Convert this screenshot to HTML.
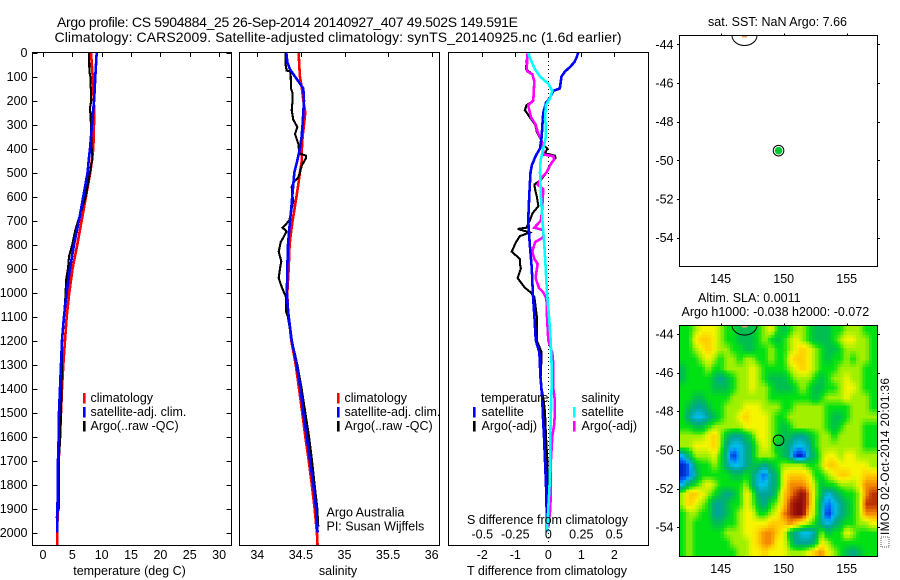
<!DOCTYPE html>
<html>
<head>
<meta charset="utf-8">
<title>Argo profile</title>
<style>
html,body{margin:0;padding:0;background:#fff;}
svg{display:block;}
text{font-family:"Liberation Sans",sans-serif;font-size:12.5px;fill:#000;}
.t{font-size:14px;}
.small{font-size:11.8px;}
.ln{fill:none;stroke-width:2.6;shape-rendering:crispEdges;stroke-linejoin:miter;}
.ln.thin{stroke-width:2.1;}
.ax{fill:none;stroke:#000;stroke-width:1;shape-rendering:crispEdges;}
</style>
</head>
<body>
<svg id="fig" xmlns="http://www.w3.org/2000/svg" width="900" height="580" viewBox="0 0 900 580">
<rect width="900" height="580" fill="#fff"/>
<defs>
<clipPath id="clipP1"><rect x="33" y="53" width="198" height="492"/></clipPath>
<clipPath id="clipP2"><rect x="240" y="53" width="199" height="492"/></clipPath>
<clipPath id="clipP3"><rect x="449" y="53" width="199" height="492"/></clipPath>
<clipPath id="clipM1"><rect x="679.5" y="35.5" width="198" height="231"/></clipPath>
<clipPath id="clipM2"><rect x="679.5" y="325.5" width="198" height="231"/></clipPath>
</defs>
<text class="t" x="57" y="27" textLength="461" lengthAdjust="spacing">Argo profile: CS 5904884_25 26-Sep-2014 20140927_407 49.502S 149.591E</text>
<text class="t" x="54.5" y="42" textLength="567" lengthAdjust="spacing">Climatology: CARS2009. Satellite-adjusted climatology: synTS_20140925.nc (1.6d earlier)</text>
<g id="panelT"></g>
<g id="panelS"></g>
<g id="panelD"></g>
<g id="mapSST"></g>
<g id="mapSLA"></g>
<text class="small" x="0" y="0" transform="translate(889,535) rotate(-90)" textLength="157" lengthAdjust="spacing">IMOS 02-Oct-2014 20:01:36</text>
<rect x="881" y="537" width="8" height="10" fill="none" stroke="#555" stroke-width="1" stroke-dasharray="1 1"/>
</svg>
<script>
/* ---------- axis ticks ---------- */
const depthTicks = [0,100,200,300,400,500,600,700,800,900,1000,1100,1200,1300,1400,1500,1600,1700,1800,1900,2000];
const tempTicks = [0,5,10,15,20,25,30];
const salTicks = [34,34.5,35,35.5,36];
const salTickLabels = ['34','34.5','35','35.5','36'];
const tdiffTicks = [-2,-1,0,1,2];
const sdiffTicks = [-0.5,-0.25,0,0.25,0.5];
const sdiffTickLabels = ['-0.5','-0.25','0','0.25','0.5'];
const lonTicks = [145,150,155];
const latTicks = [-44,-46,-48,-50,-52,-54];

/* ---------- temperature panel ---------- */
const tempClimDepths = [0,100,250,400,500,600,700,800,900,1000,1100,1200,1300,1400,1500,1600,1700,1800,2000,2055];
const tempClimValues = [8.18,8.46,8.74,8.57,8.06,7.33,6.59,5.85,5.05,4.48,4.03,3.75,3.46,3.24,3.07,2.9,2.67,2.56,2.44,2.44];
const tempSatDepths = [0,50,100,200,300,400,450,500,600,700,800,900,1000,1100,1200,1300,1400,1500,1600,1700,1800,2000];
const tempSatValues = [9.14,9.03,8.91,8.7,8.35,8.0,7.78,7.6,6.87,6.13,5.28,4.6,4.03,3.58,3.24,3.07,2.9,2.73,2.67,2.56,2.5,2.44];
const tempArgoDepths = [0,80,100,200,230,300,400,440,470,500,600,700,740,800,850,900,950,1000,1100,1200,1300,1500,1600,1700,1900,1940];
const tempArgoValues = [7.84,7.9,8.06,8.23,8.0,8.18,8.3,8.46,8.2,8.0,7.27,6.0,5.5,5.0,4.43,4.26,3.92,3.87,3.58,3.24,3.24,3.07,2.95,2.67,2.7,2.3];

/* ---------- salinity panel ---------- */
const salClimDepths = [0,100,150,200,250,300,350,400,450,500,550,600,650,700,750,800,900,1000,1050,1100,1200,1300,1400,1500,1600,1700,1800,1900,2000,2055];
const salClimValues = [34.474,34.489,34.512,34.528,34.55,34.535,34.52,34.512,34.512,34.489,34.47,34.45,34.428,34.405,34.386,34.37,34.36,34.344,34.348,34.36,34.39,34.44,34.478,34.515,34.55,34.59,34.625,34.657,34.684,34.692];
const salSatDepths = [0,40,70,100,130,150,200,300,350,400,450,500,550,600,650,700,750,800,900,1000,1050,1100,1200,1300,1400,1500,1600,1700,1800,1900,2000];
const salSatValues = [34.333,34.344,34.375,34.432,34.49,34.528,34.535,34.52,34.508,34.489,34.459,34.424,34.413,34.4,34.39,34.375,34.363,34.352,34.344,34.34,34.348,34.36,34.394,34.451,34.495,34.528,34.566,34.604,34.642,34.673,34.692];
const salArgoDepths = [0,50,75,80,150,170,200,240,280,310,340,380,420,430,440,470,500,520,540,560,600,620,650,700,715,730,745,770,790,830,870,900,940,980,1000,1020,1080,1100,1200,1300,1400,1500,1600,1700,1800,1900,1975];
const salArgoValues = [34.325,34.325,34.336,34.382,34.386,34.405,34.405,34.394,34.413,34.459,34.432,34.47,34.482,34.558,34.558,34.512,34.489,34.47,34.42,34.394,34.405,34.413,34.394,34.367,34.329,34.29,34.336,34.3,34.268,34.245,34.275,34.26,34.245,34.283,34.306,34.33,34.33,34.35,34.396,34.459,34.508,34.55,34.593,34.627,34.657,34.688,34.7];

/* ---------- difference panel ---------- */
const dTempSatDepths = [0,20,40,60,80,100,120,150,160,190,210,250,300,350,400,430,470,500,600,700,800,900,1000,1100,1150,1200,1250,1350,1450,1500,1600,1700,1800,1900,2000];
const dTempSatValues = [0.91,0.86,0.79,0.66,0.5,0.4,0.38,0.35,0.15,0.05,-0.07,-0.15,-0.18,-0.2,-0.25,-0.38,-0.5,-0.54,-0.58,-0.61,-0.56,-0.5,-0.47,-0.42,-0.4,-0.38,-0.27,-0.24,-0.18,-0.17,-0.13,-0.1,-0.07,-0.05,-0.04];
const dTempArgoDepths = [0,70,90,120,200,220,240,270,300,330,370,390,400,420,430,440,470,500,530,550,570,600,640,670,700,730,735,750,765,790,830,860,880,900,940,980,1000,1020,1100,1200,1250,1350,1400,1450,1500,1600,1700,1800,1900,1950];
const dTempArgoValues = [-0.63,-0.68,-0.48,-0.42,-0.45,-0.66,-0.71,-0.56,-0.4,-0.35,-0.2,-0.12,-0.03,-0.1,0.2,0.22,0.05,-0.05,-0.22,-0.42,-0.4,-0.35,-0.3,-0.48,-0.56,-0.66,-0.93,-0.56,-0.86,-0.98,-1.11,-0.86,-0.86,-0.83,-0.93,-0.71,-0.53,-0.42,-0.35,-0.35,-0.2,-0.23,-0.2,-0.14,-0.1,-0.07,-0.03,-0.02,-0.03,-0.04];
const dSalSatDepths = [0,30,70,100,130,160,190,220,280,300,350,400,450,500,600,700,800,900,1000,1100,1200,1300,1400,1500,1600,1700,1800,1900,2000];
const dSalSatValues = [-0.152,-0.134,-0.1,-0.063,0,0.03,0.013,-0.018,-0.025,-0.018,-0.018,-0.038,-0.058,-0.063,-0.056,-0.045,-0.03,-0.02,-0.01,0.005,0.018,0.025,0.025,0.02,0.015,0.015,0.01,0,-0.01];
const dSalArgoDepths = [0,70,80,90,120,200,220,270,300,330,370,400,425,432,445,470,500,520,550,570,620,670,700,730,740,770,790,830,860,880,940,980,1000,1020,1050,1100,1200,1250,1300,1400,1450,1500,1550,1600,1700,1800,1900,1980];
const dSalArgoValues = [-0.157,-0.164,-0.157,-0.121,-0.106,-0.114,-0.152,-0.131,-0.096,-0.081,-0.05,-0.038,-0.038,0.038,0.045,0.013,-0.013,-0.05,-0.081,-0.038,-0.043,-0.05,-0.056,-0.106,-0.038,-0.038,-0.1,-0.121,-0.106,-0.081,-0.096,-0.071,-0.038,-0.018,-0.01,-0.01,0,0.03,0.038,0.038,0.05,0.05,0.045,0.03,0.02,0.02,0.015,0];

/* ---------- maps ---------- */
const argoLon = 149.591;
const argoLat = -49.502;
const heatLon0 = 142;
const heatLat0 = -43.8;
const heatStep = 0.5;
const heatRow00 = [0,0,1,2,2,2,1,0,0,-1,-1,-1,0,1,2,0,-1,0,1,1,0,-1,-1,-1,0,0,1,1,1,0,0];
const heatRow01 = [0,0,2,3,3,2,1,0,0,-1,-1,-1,0,1,0,-1,0,1,2,1,0,-1,-1,-1,0,1,2,2,1,1,0];
const heatRow02 = [0,0,1,2,3,2,1,1,0,0,-1,-1,0,0,1,0,0,1,2,3,2,1,0,-1,-1,0,1,1,1,1,0];
const heatRow03 = [0,0,0,1,2,1,0,1,1,0,1,1,0,0,1,0,0,2,3,3,2,1,0,-1,0,0,1,0,1,1,0];
const heatRow04 = [-1,0,0,0,1,0,0,1,1,1,1,2,1,0,0,0,0,1,2,3,2,1,0,0,0,1,1,1,1,0,0];
const heatRow05 = [-1,0,0,0,0,-1,-2,-1,0,1,1,2,1,0,-1,-1,-1,0,1,1,1,0,-1,0,1,1,2,1,1,0,0];
const heatRow06 = [0,0,0,0,0,-1,-1,-1,0,1,1,2,1,1,0,-1,-1,-1,0,1,0,-1,-1,0,0,1,2,2,1,0,0];
const heatRow07 = [0,0,-1,-1,0,0,0,0,1,1,1,1,1,1,0,0,0,0,0,0,0,-1,0,1,1,1,2,1,1,1,0];
const heatRow08 = [0,-1,-2,-2,-1,0,0,1,1,1,2,2,2,1,1,1,0,0,1,1,1,1,1,0,0,0,0,1,1,1,0];
const heatRow09 = [0,-2,-3,-3,-2,-1,0,1,1,2,3,2,2,2,1,0,0,1,1,1,1,1,1,0,-1,-1,0,1,1,1,1];
const heatRow10 = [0,0,-1,-1,0,1,1,1,1,1,2,2,2,2,1,0,-1,0,1,1,1,1,1,0,-1,0,1,1,1,0,0];
const heatRow11 = [1,1,1,1,2,3,1,-1,-2,-2,-1,0,2,2,1,0,-1,-1,-2,-2,-1,0,1,1,0,1,1,1,1,0,0];
const heatRow12 = [1,1,2,2,2,3,1,-2,-3,-3,-2,-1,1,2,1,-1,-1,-2,-3,-3,-2,0,1,1,1,1,1,1,1,0,0];
const heatRow13 = [-3,-1,1,1,1,2,0,-2,-5,-3,-2,-1,1,1,1,0,-1,-2,-5,-5,-2,-1,1,2,2,1,2,2,1,1,1];
const heatRow14 = [-5,-4,-1,0,0,1,0,-2,-3,-3,-2,-1,-1,-2,-1,0,1,1,1,1,0,0,1,3,3,2,2,2,2,2,1];
const heatRow15 = [-5,-4,-2,0,0,0,0,0,-1,-1,0,-1,-3,-4,-2,-1,2,3,3,3,2,0,0,1,2,3,3,2,2,3,3];
const heatRow16 = [-3,-1,0,1,2,1,0,0,0,0,1,-1,-3,-3,-2,-1,2,4,4,4,3,1,-1,0,0,1,1,1,2,4,4];
const heatRow17 = [1,3,3,2,1,0,-1,-2,-1,0,2,1,-2,-2,-2,0,3,4,5,6,4,1,-1,-3,-2,-1,0,0,1,4,5];
const heatRow18 = [1,3,2,1,0,-2,-2,-1,0,0,2,1,-1,-2,0,1,3,5,6,6,4,1,-2,-4,-3,-2,-1,0,1,5,5];
const heatRow19 = [0,1,1,0,0,-2,-2,-1,0,1,2,2,0,0,1,2,4,5,6,6,3,1,-2,-5,-3,-2,-1,0,1,4,4];
const heatRow20 = [0,1,0,0,0,-1,-1,0,0,1,2,2,2,2,3,3,3,4,3,2,1,0,-2,-3,-2,-1,0,0,1,1,2];
const heatRow21 = [0,1,0,0,0,0,0,1,1,1,2,2,3,4,4,3,2,-1,-2,-3,-3,-2,1,-1,0,0,2,1,0,0,0];
const heatRow22 = [0,1,0,0,0,0,0,0,1,1,1,2,3,4,4,2,2,0,-2,-2,-2,-1,2,1,0,0,0,0,0,0,0];
const heatRow23 = [0,1,0,0,0,0,0,0,0,1,1,2,2,3,2,2,2,1,1,1,2,3,4,2,1,0,-1,-2,-1,0,0];
const heatRows = [heatRow00,heatRow01,heatRow02,heatRow03,heatRow04,heatRow05,heatRow06,heatRow07,heatRow08,heatRow09,heatRow10,heatRow11,heatRow12,heatRow13,heatRow14,heatRow15,heatRow16,heatRow17,heatRow18,heatRow19,heatRow20,heatRow21,heatRow22,heatRow23];
const heatLevels = [-5,-4,-3,-2,-1,0,1,2,3,4,5,6];
const heatColors = [[0,40,200],[0,100,250],[0,190,235],[0,165,150],[0,190,80],[0,225,20],[160,240,0],[245,245,0],[255,205,0],[245,140,0],[190,50,0],[140,10,10]];

/* ---------- axis functions ---------- */
const NS = 'http://www.w3.org/2000/svg';
const depthY = d => 52.5 + d * 0.24;
const tempX = v => 43 + v * 5.87;
const salX = v => 257.3 + (v - 34) * 87.2;
const tdiffX = v => 548.3 + v * 33;
const sdiffX = v => 548.3 + v * 132;
const lonX = v => 720.7 + (v - 145) * 12.6;
const latY1 = v => 44.3 + (-44 - v) * 19.33;
const latY2 = v => 333.9 + (-44 - v) * 19.33;

function mk(parent, tag, attrs, name, interact) {
  const el = document.createElementNS(NS, tag);
  for (const k in attrs) el.setAttribute(k, attrs[k]);
  
  
  parent.appendChild(el);
  return el;
}
function label(parent, x, y, str, anchor, name) {
  const el = mk(parent, 'text', {x: x, y: y, 'text-anchor': anchor || 'start'}, name, false);
  el.textContent = str;
  return el;
}
function seg(parent, x1, y1, x2, y2, name) {
  return mk(parent, 'line', {x1: x1, y1: y1, x2: x2, y2: y2, class: 'ax'}, name, false);
}
function profile(parent, depths, values, xFn, color, clip, name) {
  const pts = depths.map((d, i) => xFn(values[i]).toFixed(1) + ',' + depthY(d).toFixed(1)).join(' ');
  const cls = color === '#000000' ? 'ln thin' : 'ln';
  return mk(parent, 'polyline', {points: pts, class: cls, stroke: color, 'clip-path': 'url(#' + clip + ')'}, name, false);
}
function frame(parent, x1, y1, x2, y2, name) {
  return mk(parent, 'rect', {x: x1, y: y1, width: x2 - x1, height: y2 - y1, class: 'ax'}, name, false);
}
function topTicks(parent, vals, xFn, name) {
  vals.forEach(v => seg(parent, Math.round(xFn(v)) + 0.5, 52.5, Math.round(xFn(v)) + 0.5, 57, name));
}
function legendRow(parent, sx, tx, y, color, str, key) {
  mk(parent, 'rect', {x: sx, y: y - 9, width: 2.6, height: 10.5, fill: color}, 'legend-swatch-' + key, false);
  label(parent, tx, y, str, 'start', 'legend-label-' + key);
}

/* ---------- temperature panel ---------- */
const pT = document.getElementById('panelT');
profile(pT, tempClimDepths, tempClimValues, tempX, '#ff0000', 'clipP1', 'climatology-temperature-line');
profile(pT, tempArgoDepths, tempArgoValues, tempX, '#000000', 'clipP1', 'argo-temperature-line');
profile(pT, tempSatDepths, tempSatValues, tempX, '#0000ff', 'clipP1', 'satellite-temperature-line');
frame(pT, 32.5, 52.5, 231.5, 545.5, 'temperature-plot-frame');
topTicks(pT, tempTicks, tempX, 'temperature-top-tick');
depthTicks.forEach(d => {
  const y = Math.round(depthY(d)) + 0.5;
  seg(pT, 32.5, y, 37.5, y, 'depth-tick-left');
  seg(pT, 226.5, y, 231.5, y, 'depth-tick-right');
  label(pT, 27.5, depthY(d) + 4.5, String(d), 'end', 'depth-tick-label');
});
tempTicks.forEach(v => label(pT, tempX(v), 559, String(v), 'middle', 'temperature-tick-label'));
label(pT, 129.5, 575, 'temperature (deg C)', 'middle', 'temperature-axis-title');
legendRow(pT, 83, 90.5, 402, '#ff0000', 'climatology', 'climatology');
legendRow(pT, 83, 90.5, 416, '#0000ff', 'satellite-adj. clim.', 'satellite');
legendRow(pT, 83, 90.5, 430, '#000000', 'Argo(..raw -QC)', 'argo');

/* ---------- salinity panel ---------- */
const pS = document.getElementById('panelS');
profile(pS, salClimDepths, salClimValues, salX, '#ff0000', 'clipP2', 'climatology-salinity-line');
profile(pS, salArgoDepths, salArgoValues, salX, '#000000', 'clipP2', 'argo-salinity-line');
profile(pS, salSatDepths, salSatValues, salX, '#0000ff', 'clipP2', 'satellite-salinity-line');
frame(pS, 239.5, 52.5, 439.5, 545.5, 'salinity-plot-frame');
topTicks(pS, salTicks, salX, 'salinity-top-tick');
salTicks.forEach((v, i) => label(pS, salX(v), 559, salTickLabels[i], 'middle', 'salinity-tick-label'));
label(pS, 338, 575, 'salinity', 'middle', 'salinity-axis-title');
legendRow(pS, 337, 344.5, 402, '#ff0000', 'climatology', 'climatology');
legendRow(pS, 337, 344.5, 416, '#0000ff', 'satellite-adj. clim.', 'satellite');
legendRow(pS, 337, 344.5, 430, '#000000', 'Argo(..raw -QC)', 'argo');
label(pS, 326.5, 516.5, 'Argo Australia', 'start', 'institution-label');
label(pS, 326.5, 530.5, 'PI: Susan Wijffels', 'start', 'principal-investigator-label');

/* ---------- difference panel ---------- */
const pD = document.getElementById('panelD');
mk(pD, 'line', {x1: 548.5, y1: 53, x2: 548.5, y2: 545, stroke: '#000', 'stroke-width': 1, 'stroke-dasharray': '1 3', 'shape-rendering': 'crispEdges'}, 'zero-difference-line', false);
profile(pD, dTempArgoDepths, dTempArgoValues, tdiffX, '#000000', 'clipP3', 'argo-temperature-difference-line');
profile(pD, dSalArgoDepths, dSalArgoValues, sdiffX, '#ff00ff', 'clipP3', 'argo-salinity-difference-line');
profile(pD, dTempSatDepths, dTempSatValues, tdiffX, '#0000ff', 'clipP3', 'satellite-temperature-difference-line');
profile(pD, dSalSatDepths, dSalSatValues, sdiffX, '#00ffff', 'clipP3', 'satellite-salinity-difference-line');
frame(pD, 448.5, 52.5, 648.5, 545.5, 'difference-plot-frame');
topTicks(pD, tdiffTicks, tdiffX, 'difference-top-tick');
tdiffTicks.forEach(v => label(pD, tdiffX(v), 559, String(v), 'middle', 'temperature-difference-tick-label'));
sdiffTicks.forEach((v, i) => label(pD, sdiffX(v), 538.5, sdiffTickLabels[i], 'middle', 'salinity-difference-tick-label'));
label(pD, 547.5, 524, 'S difference from climatology', 'middle', 'salinity-difference-axis-title');
label(pD, 547, 575, 'T difference from climatology', 'middle', 'temperature-difference-axis-title');
label(pD, 481, 402, 'temperature', 'start', 'temperature-legend-heading');
label(pD, 581.5, 402, 'salinity', 'start', 'salinity-legend-heading');
legendRow(pD, 473, 481.5, 416, '#0000ff', 'satellite', 'temperature-satellite');
legendRow(pD, 473, 481.5, 430, '#000000', 'Argo(-adj)', 'temperature-argo');
legendRow(pD, 573, 581.5, 416, '#00ffff', 'satellite', 'salinity-satellite');
legendRow(pD, 573, 581.5, 430, '#ff00ff', 'Argo(-adj)', 'salinity-argo');

/* ---------- maps ---------- */
function heatColor(v) {
  let i = 0;
  while (i < heatLevels.length - 2 && v > heatLevels[i + 1]) i++;
  const f = Math.max(0, Math.min(1, (v - heatLevels[i]) / (heatLevels[i + 1] - heatLevels[i])));
  const a = heatColors[i], b = heatColors[i + 1];
  return 'rgb(' + a.map((c, k) => Math.round(c + (b[k] - c) * f)).join(',') + ')';
}
function heatAt(u, w) {
  const maxJ = heatRows.length - 1, maxI = heatRows[0].length - 1;
  const cu = Math.max(0, Math.min(maxI, u)), cw = Math.max(0, Math.min(maxJ, w));
  const i0 = Math.floor(cu), j0 = Math.floor(cw);
  const i1 = Math.min(maxI, i0 + 1), j1 = Math.min(maxJ, j0 + 1);
  const fu = cu - i0, fw = cw - j0;
  const top = heatRows[j0][i0] * (1 - fu) + heatRows[j0][i1] * fu;
  const bot = heatRows[j1][i0] * (1 - fu) + heatRows[j1][i1] * fu;
  return top * (1 - fw) + bot * fw;
}
function mapAxes(g, yTop, latY, clip, name) {
  const yBot = yTop + 231;
  const c = mk(g, 'g', {'clip-path': 'url(#' + clip + ')'}, name + '-coast', false);
  mk(c, 'ellipse', {cx: 744.5, cy: latY(-43.57) - 0.5, rx: 12.5, ry: 10, fill: 'none', stroke: '#000', 'stroke-width': 1}, name + '-island-outline', false);
  mk(c, 'rect', {x: 742, y: yTop, width: 5, height: 2, fill: '#e8a060'}, name + '-island-fill', false);
  frame(g, 679.5, yTop, 877.5, yBot, name + '-frame');
  lonTicks.forEach(v => {
    const x = Math.round(lonX(v)) + 0.5;
    seg(g, x, yTop - 2, x, yTop, name + '-longitude-tick');
    label(g, lonX(v), yBot + 16.5, String(v), 'middle', name + '-longitude-label');
  });
  latTicks.forEach(v => {
    const y = Math.round(latY(v)) + 0.5;
    seg(g, 677, y, 679.5, y, name + '-latitude-tick-left');
    seg(g, 877.5, y, 880, y, name + '-latitude-tick-right');
    label(g, 673.5, latY(v) + 4.5, String(v), 'end', name + '-latitude-label');
  });
}

const m1 = document.getElementById('mapSST');
label(m1, 777.5, 26, 'sat. SST: NaN Argo: 7.66', 'middle', 'sst-map-title');
mk(m1, 'circle', {cx: lonX(argoLon), cy: latY1(argoLat), r: 3.8, fill: '#00c832', stroke: 'none'}, 'argo-sst-point', false);
mk(m1, 'circle', {cx: lonX(argoLon), cy: latY1(argoLat), r: 5.3, fill: 'none', stroke: '#000', 'stroke-width': 1}, 'argo-position-ring', false);
mapAxes(m1, 35.5, latY1, 'clipM1', 'sst-map');

const m2 = document.getElementById('mapSLA');
label(m2, 698, 302, 'Altim. SLA: 0.0011', 'start', 'sla-map-title');
label(m2, 681.5, 316, 'Argo h1000: -0.038 h2000: -0.072', 'start', 'argo-steric-height-title');
const clipG = mk(m2, 'g', {'clip-path': 'url(#clipM2)'}, 'sla-heatmap-clip', false);
const heatG = mk(clipG, 'g', {'shape-rendering': 'crispEdges'}, 'sla-heatmap', false);
const subX = 2, subY = 3;
const cellW = heatStep * 12.6, cellH = heatStep * 19.33;
heatRows.forEach((row, j) => {
  row.forEach((v, i) => {
    const cell = mk(heatG, 'g', {}, 'sla-cell', false);
    for (let b = 0; b < subY; b++) {
      for (let a = 0; a < subX; a++) {
        const u = i + (a + 0.5) / subX - 0.5;
        const w = j + (b + 0.5) / subY - 0.5;
        let x = lonX(heatLon0 + i * heatStep) - cellW / 2 + a * cellW / subX;
        let y = latY2(heatLat0 - j * heatStep) - cellH / 2 + b * cellH / subY;
        let rw = cellW / subX + 0.5, rh = cellH / subY + 0.5;
        if (i === 0 && a === 0) { x -= 3; rw += 3; }
        if (i === row.length - 1 && a === subX - 1) { rw += 6; }
        mk(cell, 'rect', {x: x.toFixed(2), y: y.toFixed(2), width: rw.toFixed(2), height: rh.toFixed(2), fill: heatColor(heatAt(u, w))}, 'sla-subcell', false);
      }
    }
  });
});
mk(clipG, 'circle', {cx: lonX(argoLon), cy: latY2(argoLat), r: 5.3, fill: 'none', stroke: '#000', 'stroke-width': 1}, 'argo-position-marker', false);
mapAxes(m2, 325.5, latY2, 'clipM2', 'sla-map');
</script>
</body>
</html>
